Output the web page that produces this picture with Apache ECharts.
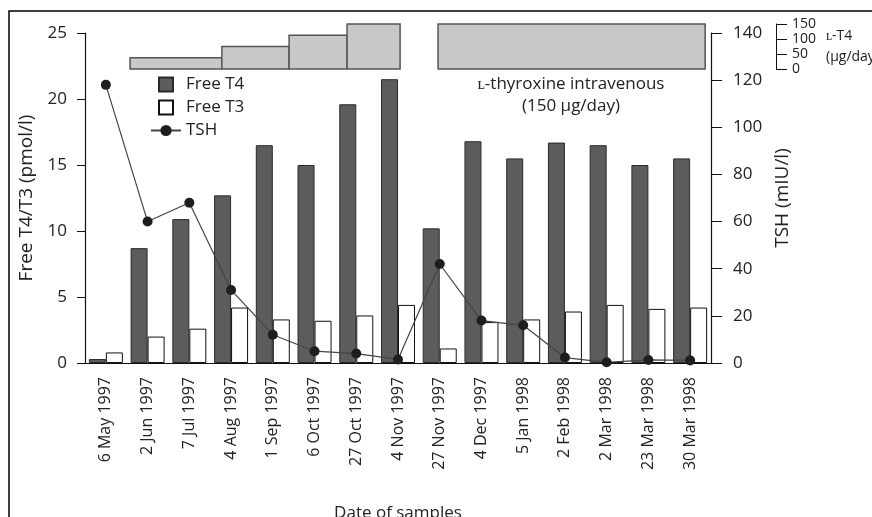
<!DOCTYPE html>
<html><head><meta charset="utf-8">
<script src="https://cdn.jsdelivr.net/npm/echarts@6/dist/echarts.min.js"></script>
<style>html,body{margin:0;padding:0;background:#fff}#c{width:872px;height:517px}</style>
</head><body><div id="c"></div>
<script>
const categories = ['6 May 1997','2 Jun 1997','7 Jul 1997','4 Aug 1997','1 Sep 1997','6 Oct 1997','27 Oct 1997','4 Nov 1997','27 Nov 1997','4 Dec 1997','5 Jan 1998','2 Feb 1998','2 Mar 1998','23 Mar 1998','30 Mar 1998'];
const freeT4 = [0.3,8.7,10.9,12.7,16.5,15.0,19.6,21.5,10.2,16.8,15.5,16.7,16.5,15.0,15.5];
const freeT3 = [0.8,2.0,2.6,4.2,3.3,3.2,3.6,4.4,1.1,3.1,3.3,3.9,4.4,4.1,4.2];
const tsh = [118,60,68,31,12,5,4,1.5,42,18,16,2.3,0.3,1.3,1.1];
// L-T4 dosing periods, positions on the sample axis in category units
const lt4Start = [1.08,3.28,4.89,6.28,8.46];
const lt4End = [3.28,4.89,6.28,7.55,14.86];
const lt4Dose = [37.5,75,112.5,150,150];
// axis ranges / ticks
const leftAxis = {min:0, max:25, interval:5};
const rightAxis = {min:0, max:140, interval:20};
const lt4Axis = {min:0, max:150, interval:50};

const FONT = 'Open Sans';
const TXT = '#222';
const lt4Data = lt4Start.map((s,i)=>[s, lt4End[i], lt4Dose[i]]);

const chart = echarts.init(document.getElementById('c'), null, {renderer:'canvas'});
chart.setOption({
  animation:false,
  backgroundColor:'#fff',
  textStyle:{fontFamily:FONT, color:TXT},
  grid:[
    {left:85, right:161, top:33, bottom:154, containLabel:false, outerBoundsMode:'none'},
    {left:85, right:161, top:24, height:45, containLabel:false, outerBoundsMode:'none'}
  ],
  legend:{
    orient:'vertical', left:150, top:76, padding:0, itemGap:6,
    itemWidth:30, itemHeight:14,
    textStyle:{fontFamily:FONT, fontSize:17, color:TXT},
    data:[
      {name:'Free T4', icon:'path://M0,0H10V10H0Z'},
      {name:'Free T3', icon:'path://M0,0H10V10H0Z'},
      {name:'TSH'}
    ]
  },
  xAxis:[
    {type:'category', gridIndex:0, data:categories, boundaryGap:true,
     name:'Date of samples', nameLocation:'middle', nameGap:142,
     nameTextStyle:{fontFamily:FONT, fontSize:17, color:TXT},
     axisLine:{lineStyle:{color:'#111', width:1.2}},
     axisTick:{inside:true, length:9, lineStyle:{color:'#111'}},
     axisLabel:{rotate:90, fontSize:16, color:TXT, fontFamily:FONT, margin:14, interval:0}},
    {type:'value', gridIndex:1, min:0, max:categories.length, show:false}
  ],
  yAxis:[
    {type:'value', gridIndex:0, min:leftAxis.min, max:leftAxis.max, interval:leftAxis.interval,
     name:'Free T4/T3 (pmol/l)', nameLocation:'middle', nameGap:49,
     nameTextStyle:{fontFamily:FONT, fontSize:19, color:TXT},
     axisLine:{show:true, onZero:false, lineStyle:{color:'#111', width:1.2}},
     axisTick:{show:true, length:8, lineStyle:{color:'#111'}},
     axisLabel:{fontSize:17, color:TXT, fontFamily:FONT, margin:18},
     splitLine:{show:false}},
    {type:'value', gridIndex:0, position:'right', min:rightAxis.min, max:rightAxis.max, interval:rightAxis.interval,
     name:'TSH (mIU/l)', nameLocation:'middle', nameGap:57,
     nameTextStyle:{fontFamily:FONT, fontSize:19, color:TXT},
     axisLine:{show:true, onZero:false, lineStyle:{color:'#111', width:1.2}},
     axisTick:{show:true, length:11, lineStyle:{color:'#111'}},
     axisLabel:{fontSize:17, color:TXT, fontFamily:FONT, margin:22},
     splitLine:{show:false}},
    {type:'value', gridIndex:1, position:'right', offset:65, min:lt4Axis.min, max:lt4Axis.max, interval:lt4Axis.interval,
     name:'ʟ-T4\n(µg/day)', nameLocation:'middle', nameGap:50, nameRotate:0,
     nameTextStyle:{fontFamily:FONT, fontSize:14, color:TXT, lineHeight:21, align:'left'},
     axisLine:{show:true, onZero:false, lineStyle:{color:'#111', width:1}},
     axisTick:{show:true, length:11, lineStyle:{color:'#111'}},
     axisLabel:{fontSize:14, color:TXT, fontFamily:FONT, margin:16, lineHeight:14},
     splitLine:{show:false}}
  ],
  series:[
    {name:'Free T4', type:'bar', xAxisIndex:0, yAxisIndex:0, data:freeT4, barWidth:17, barGap:'0%',
     itemStyle:{color:'#5c5c5c', borderColor:'#2a2a2a', borderWidth:1}},
    {name:'Free T3', type:'bar', xAxisIndex:0, yAxisIndex:0, data:freeT3, barWidth:17, barGap:'0%',
     itemStyle:{color:'#ffffff', borderColor:'#111', borderWidth:1}},
    {name:'TSH', type:'line', xAxisIndex:0, yAxisIndex:1, data:tsh, symbol:'circle', symbolSize:10,
     lineStyle:{color:'#444', width:1.2}, itemStyle:{color:'#1e1e1e'}, z:5},
    {name:'L-T4', type:'custom', xAxisIndex:1, yAxisIndex:2, data:lt4Data,
     encode:{x:[0,1], y:2},
     renderItem:function(params, api){
       const p0 = api.coord([api.value(0), api.value(2)]);
       const p1 = api.coord([api.value(1), 0]);
       return {type:'rect', shape:{x:p0[0], y:p0[1], width:p1[0]-p0[0], height:p1[1]-p0[1]},
         style:{fill:'#c8c8c8', stroke:'#555', lineWidth:1.5}};
     }}
  ],
  graphic:[
    {type:'polyline', shape:{points:[[9,517],[9,11],[872,11]]}, style:{stroke:'#000', lineWidth:1.5, fill:null}, silent:true},
    {type:'text', x:571, y:84, style:{text:'ʟ-thyroxine intravenous', fontFamily:FONT, fontSize:17, fill:TXT,
      align:'center', verticalAlign:'middle'}},
    {type:'text', x:571, y:106, style:{text:'(150 µg/day)', fontFamily:FONT, fontSize:17, fill:TXT,
      align:'center', verticalAlign:'middle'}}
  ]
});
</script></body></html>
